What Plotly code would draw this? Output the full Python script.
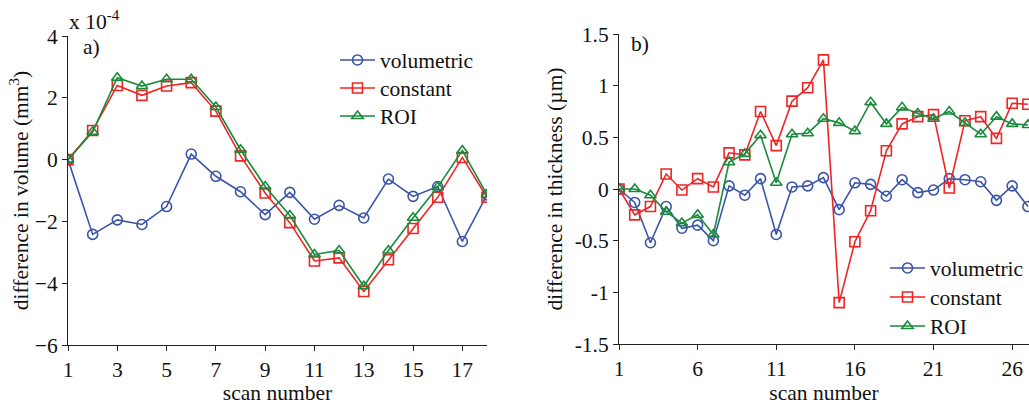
import plotly.graph_objects as go

# ---- data ----
scan_a = list(range(1, 19))
vol_volumetric = [0, -2.42, -1.95, -2.1, -1.52, 0.18, -0.54, -1.04, -1.78, -1.06, -1.93, -1.48, -1.89, -0.63, -1.19, -0.87, -2.65, -1.14]
vol_constant = [0, 0.94, 2.40, 2.08, 2.38, 2.49, 1.57, 0.12, -1.08, -2.04, -3.28, -3.18, -4.27, -3.24, -2.23, -1.22, 0.07, -1.22]
vol_roi = [0, 0.90, 2.65, 2.38, 2.60, 2.60, 1.70, 0.32, -0.87, -1.81, -3.07, -2.94, -4.10, -2.94, -1.88, -0.89, 0.29, -1.13]

scan_b = list(range(1, 28))
thk_volumetric = [0, -0.13, -0.52, -0.17, -0.38, -0.35, -0.50, 0.03, -0.06, 0.10, -0.44, 0.02, 0.03, 0.11, -0.20, 0.06, 0.045, -0.07, 0.09, -0.035, -0.01, 0.10, 0.09, 0.07, -0.11, 0.03, -0.17]
thk_constant = [0, -0.25, -0.17, 0.145, -0.01, 0.10, 0.02, 0.35, 0.33, 0.75, 0.42, 0.85, 0.98, 1.25, -1.10, -0.51, -0.21, 0.37, 0.63, 0.70, 0.72, 0.01, 0.66, 0.70, 0.49, 0.83, 0.82]
thk_roi = [0, 0.0, -0.06, -0.22, -0.33, -0.25, -0.44, 0.26, 0.34, 0.52, 0.06, 0.53, 0.54, 0.68, 0.64, 0.56, 0.84, 0.63, 0.79, 0.73, 0.68, 0.75, 0.64, 0.53, 0.70, 0.63, 0.62]

a_xticks = [1, 3, 5, 7, 9, 11, 13, 15, 17]
a_yticks = [-6, -4, -2, 0, 2, 4]
b_xticks = [1, 6, 11, 16, 21, 26]
b_yticks = [-1.5, -1, -0.5, 0, 0.5, 1, 1.5]
b_yticklabels = ["-1.5", "-1", "-0.5", "0", "0.5", "1", "1.5"]

names = ["volumetric", "constant", "ROI"]
colors = ["#3A55A8", "#F02424", "#1A8A3C"]
symbols = ["circle-open", "square-open", "triangle-up-open"]

W, H = 1029, 405
FONT = "Liberation Serif"
FS = 21.5


def px_x(p):
    return p / W


def px_y(p):
    return 1 - p / H


fig = go.Figure()
legend_ids = ["legend", "legend2", "legend3", "legend4", "legend5", "legend6"]
k = 0
for name, ys, c, s in zip(names, [vol_volumetric, vol_constant, vol_roi], colors, symbols):
    fig.add_trace(go.Scatter(x=scan_a, y=ys, name=name, mode="lines+markers",
                             line=dict(color=c, width=1.6),
                             marker=dict(symbol=s, size=10, color=c, line=dict(width=1.6, color=c)),
                             xaxis="x", yaxis="y", legend=legend_ids[k]))
    k += 1
for name, ys, c, s in zip(names, [thk_volumetric, thk_constant, thk_roi], colors, symbols):
    fig.add_trace(go.Scatter(x=scan_b, y=ys, name=name, mode="lines+markers",
                             line=dict(color=c, width=1.6),
                             marker=dict(symbol=s, size=10, color=c, line=dict(width=1.6, color=c)),
                             xaxis="x2", yaxis="y2", legend=legend_ids[k]))
    k += 1

axis_common = dict(showline=True, linecolor="#222", linewidth=1, ticks="outside", ticklen=5,
                   tickcolor="#222", showgrid=False, zeroline=False, mirror=False,
                   tickfont=dict(family=FONT, size=FS, color="#111"), automargin=False)

legend_pos = [(335, 60), (335, 88), (335, 116), (885, 268), (885, 297), (885, 326)]
legends = {}
for lid, (lx, ly) in zip(legend_ids, legend_pos):
    legends[lid] = dict(x=px_x(lx), y=px_y(ly), xanchor="left", yanchor="middle",
                        bgcolor="rgba(0,0,0,0)", font=dict(family=FONT, size=FS),
                        itemwidth=35, tracegroupgap=0)

fig.update_layout(
    width=W, height=H,
    margin=dict(l=0, r=0, t=0, b=0),
    paper_bgcolor="white", plot_bgcolor="white",
    font=dict(family=FONT, size=FS, color="#111"),
    xaxis=dict(domain=[px_x(68), px_x(487)], range=[1, 18], tickvals=a_xticks,
               title=dict(text="scan number", font=dict(family=FONT, size=FS), standoff=0),
               anchor="y", **axis_common),
    yaxis=dict(domain=[px_y(345), px_y(36)], range=[-6, 4], tickvals=a_yticks,
               title=dict(text="difference in volume (mm<sup>3</sup>)", font=dict(family=FONT, size=FS), standoff=0),
               anchor="x", **axis_common),
    xaxis2=dict(domain=[px_x(619), 1.0], range=[1, 27.07], tickvals=b_xticks,
                title=dict(text="scan number", font=dict(family=FONT, size=FS), standoff=0),
                anchor="y2", **axis_common),
    yaxis2=dict(domain=[px_y(344), px_y(34)], range=[-1.5, 1.5], tickvals=b_yticks, ticktext=b_yticklabels,
                title=dict(text="difference in thickness (µm)", font=dict(family=FONT, size=FS), standoff=6),
                anchor="x2", **axis_common),
    showlegend=True,
    **legends,
)

fig.add_annotation(x=px_x(67), y=px_y(20), xref="paper", yref="paper", text="x 10<sup>-4</sup>",
                   showarrow=False, xanchor="left", yanchor="middle", font=dict(family=FONT, size=FS))
fig.add_annotation(x=px_x(81), y=px_y(47), xref="paper", yref="paper", text="a)",
                   showarrow=False, xanchor="left", yanchor="middle", font=dict(family=FONT, size=FS))
fig.add_annotation(x=px_x(629), y=px_y(44), xref="paper", yref="paper", text="b)",
                   showarrow=False, xanchor="left", yanchor="middle", font=dict(family=FONT, size=FS))

fig.write_html("out.html")
